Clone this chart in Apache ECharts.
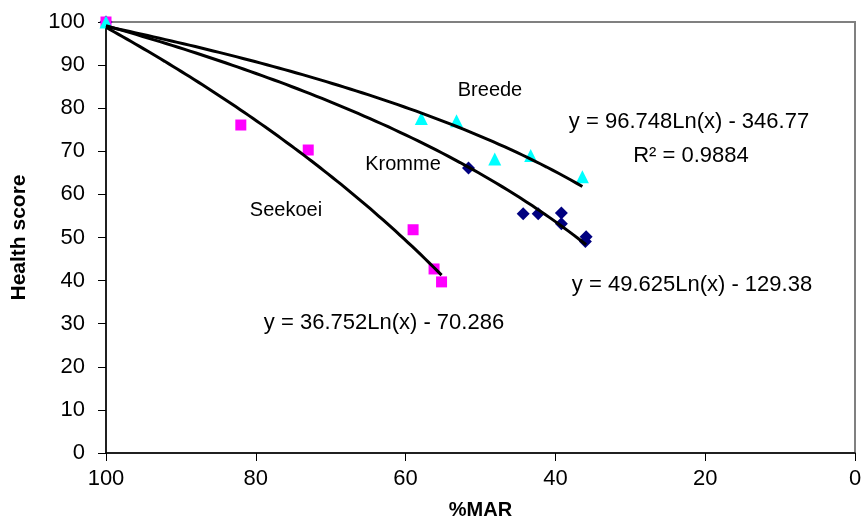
<!DOCTYPE html>
<html>
<head>
<meta charset="utf-8">
<script src="https://cdn.jsdelivr.net/npm/echarts@6/dist/echarts.min.js"></script>
<style>
  html, body { margin: 0; padding: 0; background: #fff; }
  #chart { width: 864px; height: 524px; }
</style>
</head>
<body>
<div id="chart"></div>
<script>
// Observed health scores against flow (% of mean annual runoff)
const breedeX  = [100, 57.9, 53.2, 48.1, 43.3, 36.4];
const breedeY  = [100, 77.6, 77.1, 68.2, 69.0, 64.1];
const krommeX  = [100, 51.6, 44.3, 42.3, 39.2, 39.2, 35.9, 36.0];
const krommeY  = [100, 66.1, 55.5, 55.5, 55.7, 53.2, 50.2, 49.1];
const seekoeiX = [100, 82.0, 73.0, 59.0, 56.2, 55.2];
const seekoeiY = [100, 76.1, 70.3, 51.8, 42.7, 39.7];

// Logarithmic trend lines y = a*Ln(x) + b (Breede, Kromme, Seekoei)
const trendA = [36.752, 49.625, 96.748];
const trendB = [-70.286, -129.38, -346.77];

const seriesNames = ['Breede', 'Kromme', 'Seekoei'];
const equationLabels = [
  'y = 36.752Ln(x) - 70.286',
  'y = 49.625Ln(x) - 129.38',
  'y = 96.748Ln(x) - 346.77'
];
const rSquaredLabel = 'R\u00B2 = 0.9884';

const FONT = '"Liberation Sans", Arial, sans-serif';

function pairs(xs, ys) { return xs.map((x, i) => [x, ys[i]]); }

// Trend curve evaluated over the observed range of each site
function trendCurve(k, xs) {
  const lo = Math.min(...xs), hi = Math.max(...xs);
  const pts = [];
  const n = 80;
  for (let i = 0; i <= n; i++) {
    const x = hi - (hi - lo) * i / n;
    pts.push([x, trendA[k] * Math.log(x) + trendB[k]]);
  }
  return pts;
}

const chart = echarts.init(document.getElementById('chart'), null, { renderer: 'canvas' });

const textStyle = (size, extra) => Object.assign({
  fontFamily: FONT, fontSize: size, fill: '#000'
}, extra || {});

chart.setOption({
  animation: false,
  backgroundColor: '#fff',
  grid: {
    left: 106, right: 9, top: 22, bottom: 71,
    outerBoundsMode: 'none', containLabel: false,
    show: true, borderColor: '#808080', borderWidth: 2, backgroundColor: 'transparent'
  },
  xAxis: {
    type: 'value', inverse: true, min: 0, max: 100, interval: 20,
    name: '%MAR', nameLocation: 'middle', nameGap: 47,
    nameTextStyle: { fontFamily: FONT, fontSize: 20, fontWeight: 'bold', color: '#000' },
    axisLine: { show: true, onZero: false, lineStyle: { color: '#000', width: 1.5 } },
    axisTick: { show: true, length: 8, lineStyle: { color: '#000' } },
    axisLabel: { fontFamily: FONT, fontSize: 22, color: '#000', margin: 15 },
    splitLine: { show: false }
  },
  yAxis: {
    type: 'value', min: 0, max: 100, interval: 10,
    name: 'Health score', nameLocation: 'middle', nameGap: 76,
    nameTextStyle: { fontFamily: FONT, fontSize: 21, fontWeight: 'bold', color: '#000' },
    axisLine: { show: true, onZero: false, lineStyle: { color: '#000', width: 1.5 } },
    axisTick: { show: true, length: 8, lineStyle: { color: '#000' } },
    axisLabel: { fontFamily: FONT, fontSize: 22, color: '#000', margin: 21 },
    splitLine: { show: false }
  },
  series: [
    {
      name: seriesNames[1], type: 'scatter', data: pairs(krommeX, krommeY),
      symbol: 'diamond', symbolSize: 13, itemStyle: { color: '#000080', opacity: 1 }, z: 2
    },
    {
      name: seriesNames[2], type: 'scatter', data: pairs(seekoeiX, seekoeiY),
      symbol: 'rect', symbolSize: 11, itemStyle: { color: '#FF00FF', opacity: 1 }, z: 3
    },
    {
      name: seriesNames[0], type: 'scatter', data: pairs(breedeX, breedeY),
      symbol: 'triangle', symbolSize: 13, itemStyle: { color: '#00FFFF', opacity: 1 }, z: 4
    },
    {
      type: 'line', data: trendCurve(0, breedeX), showSymbol: false, symbol: 'none',
      lineStyle: { color: '#000', width: 3 }, z: 5
    },
    {
      type: 'line', data: trendCurve(1, krommeX), showSymbol: false, symbol: 'none',
      lineStyle: { color: '#000', width: 3 }, z: 5
    },
    {
      type: 'line', data: trendCurve(2, seekoeiX), showSymbol: false, symbol: 'none',
      lineStyle: { color: '#000', width: 3 }, z: 5
    }
  ],
  graphic: [
    { type: 'text', x: 490, y: 90, style: textStyle(20, { text: seriesNames[0], align: 'center', verticalAlign: 'middle' }) },
    { type: 'text', x: 403, y: 164, style: textStyle(20, { text: seriesNames[1], align: 'center', verticalAlign: 'middle' }) },
    { type: 'text', x: 286, y: 210, style: textStyle(20, { text: seriesNames[2], align: 'center', verticalAlign: 'middle' }) },
    { type: 'text', x: 689, y: 122, style: textStyle(22, { text: equationLabels[2], align: 'center', verticalAlign: 'middle' }) },
    { type: 'text', x: 691, y: 156, style: textStyle(22, { text: rSquaredLabel, align: 'center', verticalAlign: 'middle' }) },
    { type: 'text', x: 692, y: 285, style: textStyle(22, { text: equationLabels[1], align: 'center', verticalAlign: 'middle' }) },
    { type: 'text', x: 384, y: 323, style: textStyle(22, { text: equationLabels[0], align: 'center', verticalAlign: 'middle' }) }
  ]
});
</script>
</body>
</html>
